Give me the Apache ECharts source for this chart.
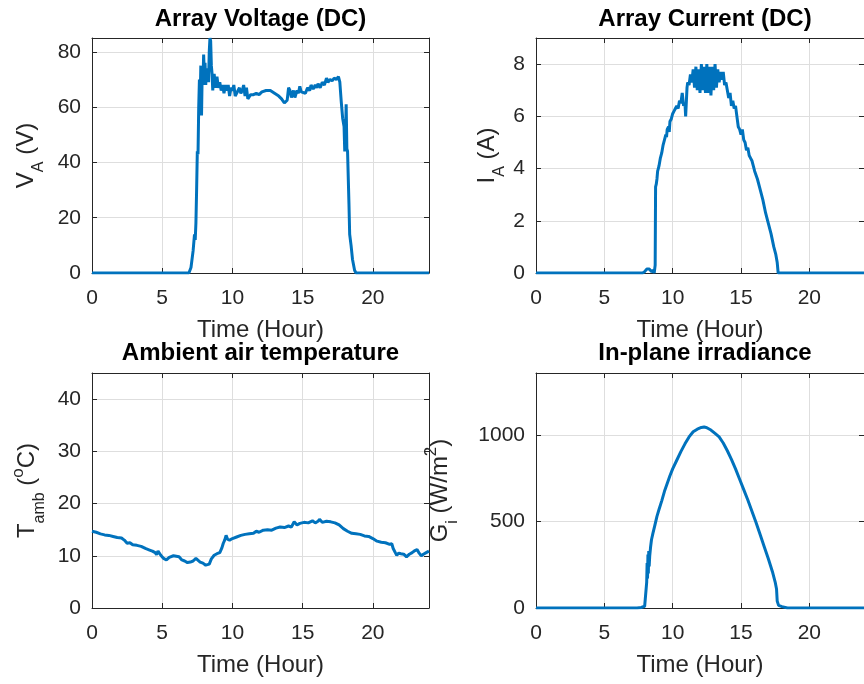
<!DOCTYPE html>
<html>
<head>
<meta charset="utf-8">
<script src="https://cdn.jsdelivr.net/npm/echarts@6/dist/echarts.min.js"></script>
<style>
html,body{margin:0;padding:0;background:#fff;}
#chart{width:864px;height:684px;}
</style>
</head>
<body>
<div id="chart"></div>
<script>
// ---------- DATA ----------
var xTicks = [0, 5, 10, 15, 20];
var xAxisTitle = 'Time (Hour)';
var titles = ['Array Voltage (DC)', 'Array Current (DC)', 'Ambient air temperature', 'In-plane irradiance'];

var voltHours = [0,6.9,7.05,7.2,7.3,7.35,7.4,7.45,7.5,7.55,7.6,7.65,7.7,7.75,7.8,7.85,7.9,7.95,8.0,8.05,8.1,8.15,8.2,8.25,8.3,8.35,8.4,8.45,8.5,8.55,8.6,8.65,8.7,8.8,8.9,9.0,9.1,9.2,9.3,9.4,9.5,9.6,9.7,9.8,9.9,10.0,10.1,10.2,10.3,10.4,10.5,10.6,10.7,10.8,10.9,11.0,11.1,11.2,11.3,11.5,11.7,11.9,12.1,12.4,12.7,13.0,13.3,13.5,13.7,13.9,14.0,14.1,14.2,14.35,14.45,14.6,14.7,14.8,14.9,15.0,15.2,15.35,15.5,15.6,15.75,15.9,16.0,16.1,16.25,16.4,16.55,16.7,16.8,16.95,17.1,17.25,17.4,17.55,17.65,17.75,17.85,17.95,18.0,18.05,18.1,18.15,18.2,18.3,18.35,18.45,18.55,18.7,18.8,24];
var voltValues = [0,0,2,8,14,12,18,30,44,43,60,70,62,75,57,73,68,79,72,76,68,74,70,73,69,80,85,84,75,72,66,71,72,67,71,67,69,66,68,65,68,66,68,64,67,66,68,64,63.5,66,67,65,66,68,64,67,63,62.5,64.5,64.5,65,64.5,65.5,66,66,65,64,63,61.5,62.5,67,66,63.5,66,63.5,66,65,67.5,65.5,66,65,67,66,68,66.5,68,67,68.5,67,69,68,70.5,69,70,69.5,70.5,70,71,69,62,56,53,44,48,61,45,44,25,14,10,5,1,0,0];

var currHours = [0,7.8,7.95,8.1,8.3,8.45,8.6,8.65,8.72,8.75,8.8,8.85,8.9,8.95,9.0,9.1,9.2,9.3,9.4,9.5,9.55,9.6,9.7,9.75,9.8,9.9,10.0,10.1,10.2,10.3,10.4,10.5,10.6,10.7,10.8,10.9,10.95,11.05,11.1,11.2,11.3,11.4,11.5,11.6,11.7,11.8,11.9,12.0,12.1,12.2,12.3,12.4,12.5,12.6,12.7,12.8,12.9,13.0,13.1,13.2,13.3,13.4,13.5,13.6,13.7,13.8,13.9,14.0,14.1,14.2,14.3,14.4,14.5,14.6,14.7,14.8,14.9,15.0,15.1,15.2,15.3,15.4,15.5,15.6,15.7,15.8,15.9,16.0,16.2,16.4,16.6,16.8,17.0,17.2,17.4,17.55,17.65,17.72,24];
var currValues = [0,0,0.05,0.15,0.15,0.05,0.1,0,0.3,3.3,3.4,3.6,3.9,4.0,4.1,4.4,4.6,4.9,5.1,5.3,5.2,5.5,5.6,5.4,5.8,5.9,6.1,6.2,6.3,6.4,6.3,6.6,6.5,6.9,6.4,6.5,6.0,7.1,7.3,7.2,7.6,7.3,7.8,7.1,7.9,7.0,7.8,6.9,8.0,7.0,7.9,6.9,8.0,6.9,7.9,6.8,7.9,7.0,8.0,7.1,7.8,7.3,7.7,7.4,7.7,7.2,7.3,7.0,6.7,6.9,6.4,6.6,6.3,6.4,6.0,5.6,5.5,5.3,5.5,5.1,5.0,4.7,4.8,4.5,4.4,4.3,4.1,3.9,3.6,3.2,2.8,2.3,1.9,1.5,1.0,0.7,0.4,0,0];

var tempHours = [0,0.3,0.6,0.9,1.2,1.5,1.8,2.1,2.3,2.5,2.7,2.9,3.2,3.5,3.8,4.1,4.3,4.5,4.6,4.7,4.9,5.1,5.3,5.5,5.8,6.0,6.2,6.4,6.6,6.8,7.0,7.2,7.4,7.5,7.7,7.9,8.1,8.2,8.35,8.5,8.7,8.9,9.1,9.25,9.35,9.45,9.55,9.65,9.8,10.0,10.3,10.6,10.9,11.2,11.5,11.7,11.9,12.2,12.5,12.8,13.1,13.4,13.7,14.0,14.2,14.4,14.6,14.8,15.1,15.4,15.7,15.9,16.1,16.2,16.4,16.7,17.0,17.3,17.6,17.9,18.2,18.5,18.8,19.1,19.4,19.7,20.0,20.3,20.6,20.9,21.2,21.35,21.45,21.6,21.7,21.85,22.0,22.2,22.4,22.6,22.8,23.0,23.15,23.3,23.45,23.6,23.8,24.0];
var tempValues = [14.7,14.5,14.2,14.0,13.9,13.7,13.5,13.4,13.0,12.4,12.5,12.1,12.0,11.8,11.4,11.1,10.9,10.6,10.2,10.9,10.1,9.5,9.2,9.7,10.0,9.9,9.8,9.2,9.0,8.7,8.8,9.0,9.5,9.8,8.8,8.6,8.2,7.9,8.4,9.4,10.1,10.4,10.6,11.5,12.4,13.0,13.9,13.2,13.0,13.3,13.6,13.9,14.1,14.2,14.3,14.7,14.5,14.9,15.0,14.9,15.3,15.5,15.4,15.7,15.5,16.5,15.9,16.2,16.4,16.3,16.7,16.3,16.6,17.0,16.4,16.6,16.5,16.3,15.9,15.2,14.7,14.3,14.2,14.1,13.8,13.7,13.3,12.8,12.6,12.5,12.2,12.3,11.4,10.6,10.1,10.5,10.4,10.3,9.8,10.3,10.6,11.0,11.2,10.5,10.0,10.3,10.6,10.9];

var irrHours = [0,7.4,7.7,7.95,8.05,8.1,8.13,8.16,8.19,8.22,8.25,8.28,8.32,8.38,8.45,8.55,8.7,8.85,9.0,9.2,9.4,9.6,9.8,10.0,10.3,10.6,10.9,11.2,11.5,11.8,12.1,12.3,12.5,12.8,13.1,13.4,13.7,14.0,14.3,14.6,14.9,15.2,15.5,15.8,16.1,16.4,16.7,17.0,17.3,17.5,17.6,17.65,17.75,18.0,18.4,24];
var irrValues = [0,0,3,10,20,150,260,170,310,200,330,240,300,350,395,430,480,530,570,620,675,720,765,805,855,905,950,990,1020,1035,1045,1048,1043,1030,1010,990,955,910,860,805,745,685,625,560,495,425,355,285,210,150,110,40,15,8,0,0];

// ---------- STYLE / LAYOUT ----------
var FONT = 'Liberation Sans, Arial, Helvetica, sans-serif';
var TXT = '#262626';
var LINE = '#0072BD';
var GRIDC = '#dedede';

var grids = [
  {left: 92, top: 38, width: 337, height: 235},
  {left: 536, top: 38, width: 338, height: 235},
  {left: 92, top: 373, width: 337, height: 235},
  {left: 536, top: 373, width: 338, height: 235}
];
var yMax = [85, 9, 45, 1360];
var yInt = [20, 2, 10, 500];
var yNameGap = [55, 38, 54, 85];
var richBase = {
  m: {fontSize: 24, fontFamily: FONT, color: TXT, lineHeight: 28, verticalAlign: 'top', padding: [5,0,0,0]},
  s: {fontSize: 16, fontFamily: FONT, color: TXT, lineHeight: 18, verticalAlign: 'top', padding: [22,0,0,0]},
  p: {fontSize: 17, fontFamily: FONT, color: TXT, lineHeight: 18, verticalAlign: 'top', padding: [0,0,0,0]}
};
var yNames = [
  '{m|V}{s|A}{m| (V)}',
  '{m|I}{s|A}{m| (A)}',
  '{m|T}{s|amb}{m| (}{p|o}{m|C)}',
  '{m|G}{s|i}{m| (W/m}{p|2}{m|)}'
];
var seriesData = [
  [voltHours, voltValues],
  [currHours, currValues],
  [tempHours, tempValues],
  [irrHours, irrValues]
];

var xAxes = [], yAxes = [], series = [], titleArr = [];
for (var i = 0; i < 4; i++) {
  var g = grids[i];
  titleArr.push({
    text: titles[i], left: g.left + g.width / 2, top: i < 2 ? 7 : 341, textAlign: 'center', padding: 0,
    textStyle: {fontFamily: FONT, fontSize: 24, fontWeight: 'bold', color: '#000'}
  });
  xAxes.push({
    type: 'value', gridIndex: i, min: 0, max: 24, interval: 5, position: 'bottom',
    name: xAxisTitle, nameLocation: 'middle', nameGap: 45,
    nameTextStyle: {fontFamily: FONT, fontSize: 24, color: TXT},
    axisLine: {show: true, onZero: false, lineStyle: {color: TXT, width: 1}},
    axisTick: {show: true, inside: true, length: 5, lineStyle: {color: TXT}},
    axisLabel: {fontFamily: FONT, fontSize: 21, color: TXT, margin: 15, showMaxLabel: false},
    splitLine: {show: true, lineStyle: {color: GRIDC, width: 1}}
  });
  xAxes.push({
    type: 'value', gridIndex: i, min: 0, max: 24, interval: 5, position: 'top',
    axisLine: {show: true, onZero: false, lineStyle: {color: TXT, width: 1}},
    axisTick: {show: true, inside: true, length: 5, lineStyle: {color: TXT}},
    axisLabel: {show: false}, splitLine: {show: false}
  });
  yAxes.push({
    type: 'value', gridIndex: i, min: 0, max: yMax[i], interval: yInt[i], position: 'left',
    name: yNames[i], nameLocation: 'middle', nameGap: yNameGap[i], nameRotate: 90,
    nameTextStyle: {rich: richBase, fontFamily: FONT, fontSize: 24, color: TXT},
    axisLine: {show: true, onZero: false, lineStyle: {color: TXT, width: 1}},
    axisTick: {show: true, inside: true, length: 5, lineStyle: {color: TXT}},
    axisLabel: {fontFamily: FONT, fontSize: 21, color: TXT, margin: 11, showMaxLabel: false,
      formatter: function (v) { return String(v); }},
    splitLine: {show: true, lineStyle: {color: GRIDC, width: 1}}
  });
  yAxes.push({
    type: 'value', gridIndex: i, min: 0, max: yMax[i], interval: yInt[i], position: 'right',
    axisLine: {show: true, onZero: false, lineStyle: {color: TXT, width: 1}},
    axisTick: {show: true, inside: true, length: 5, lineStyle: {color: TXT}},
    axisLabel: {show: false}, splitLine: {show: false}
  });
  var hrs = seriesData[i][0], vals = seriesData[i][1];
  series.push({
    type: 'line', xAxisIndex: 2 * i, yAxisIndex: 2 * i, showSymbol: false, clip: true,
    data: hrs.map(function (h, k) { return [h, vals[k]]; }),
    lineStyle: {color: LINE, width: 3}, itemStyle: {color: LINE}, animation: false
  });
}

var chart = echarts.init(document.getElementById('chart'), null, {renderer: 'canvas'});
chart.setOption({
  backgroundColor: '#fff',
  animation: false,
  title: titleArr,
  grid: grids.map(function (g) { return Object.assign({containLabel: false}, g); }),
  xAxis: xAxes,
  yAxis: yAxes,
  series: series
});
</script>
</body>
</html>
